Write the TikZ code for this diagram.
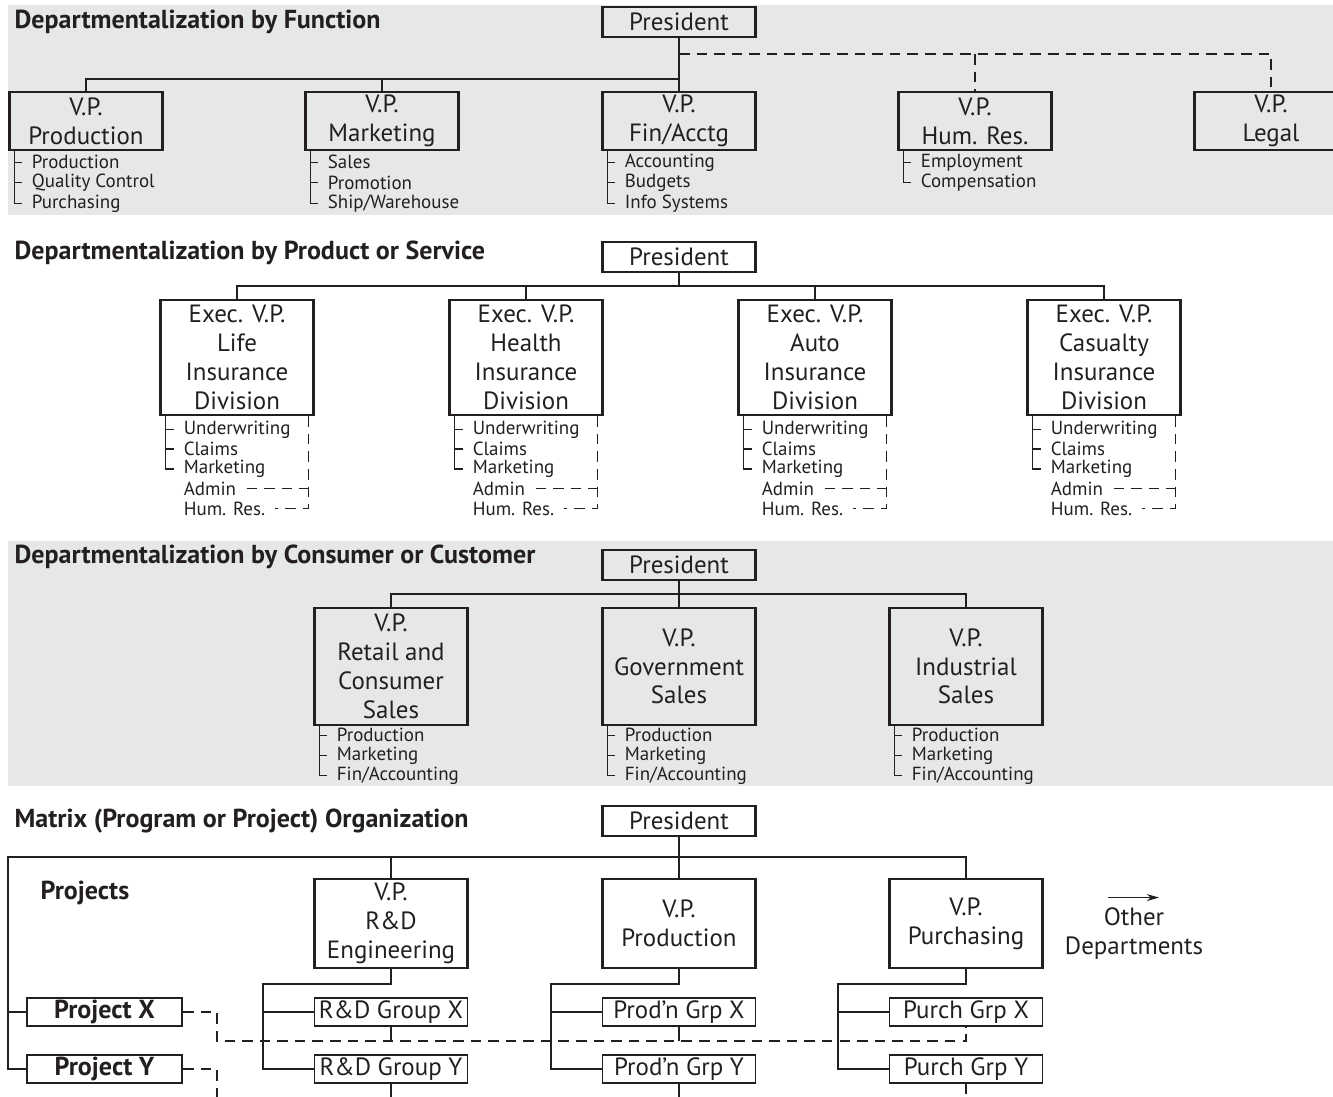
\documentclass[tikz,border=0pt]{standalone}
\usepackage{fontspec}
\setmainfont{PT Sans}
\usepackage{xcolor}
\usepackage{tikz}
\usetikzlibrary{positioning, arrows.meta, calc}
\definecolor{bandgray}{HTML}{E6E7E8}
\definecolor{ink}{HTML}{231F20}

\begin{document}
\begin{tikzpicture}[x=0.02cm, y=-0.02cm, line width=0.75pt, color=ink,
  every node/.style={inner sep=0pt},
  title/.style={anchor=west, font=\fontsize{14.8}{17}\selectfont\bfseries},
  chief/.style={draw, line width=1.5pt, minimum width=3.06cm, minimum height=0.6cm, align=center, font=\fontsize{14.2}{16.4}\selectfont},
  grpbox/.style={draw, line width=0.75pt, minimum width=3.06cm, minimum height=0.56cm, font=\fontsize{14.2}{16.4}\selectfont},
  projbox/.style={chief, minimum width=3.1cm, minimum height=0.56cm, font=\fontsize{14.8}{16.4}\selectfont\bfseries},
  item/.style={anchor=west, font=\fontsize{10.8}{12}\selectfont},
  staff link/.style={dash pattern=on 6pt off 4pt}]
\useasboundingbox (0,0) rectangle (1333,1097);
\clip (0,0) rectangle (1333,1097);
% Grey bands behind the first and third charts
\fill[bandgray] (8,5) rectangle (1333,215);
\fill[bandgray] (8,541) rectangle (1333,786);

% ---- Departmentalization by function
\node[title] (t1) at (14,22) {Departmentalization by Function};
\node[chief] (p1) at (679,22) {President};
\foreach \name/\x/\txt in {f1/86/{V.P.\\Production}, f2/382/{V.P.\\Marketing}, f3/679/{V.P.\\Fin/Acctg}, f4/975/{V.P.\\Hum. Res.}, f5/1271/{V.P.\\Legal}} {
  \node[chief, minimum height=1.16cm] (\name) at (\x,121) {\txt};
}
\coordinate (fbus) at (679,79);
\coordinate (fdash) at (679,54);
\draw (p1.south) -- (f3.north);
\draw (f1.north) |- (fbus);
\draw (f2.north) -- (f2.north |- fbus);
\draw[staff link] (fdash) -| (f5.north);
\draw[staff link] (f4.north |- fdash) -- (f4.north);
\foreach \b/\items in {f1/{Production,Quality Control,Purchasing}, f2/{Sales,Promotion,Ship/Warehouse}, f3/{Accounting,Budgets,Info Systems}, f4/{Employment,Compensation}} {
  \foreach \it [count=\k] in \items {
    \node[item] (\b-\k) at ($(\b.south west)+(23,{11+20.5*(\k-1)})$) {\it};
    \draw ($(\b.south west)+(6,0)$) |- ($(\b-\k.west)+(-9,0)$);
  }
}

% ---- Departmentalization by product or service
\node[title] (t2) at (14,253) {Departmentalization by Product or Service};
\node[chief] (p2) at (679,257) {President};
\foreach \name/\x/\txt in {d1/237/{Exec. V.P.\\Life\\Insurance\\Division}, d2/526/{Exec. V.P.\\Health\\Insurance\\Division}, d3/815/{Exec. V.P.\\Auto\\Insurance\\Division}, d4/1104/{Exec. V.P.\\Casualty\\Insurance\\Division}} {
  \node[chief, minimum height=2.3cm] (\name) at (\x,357.5) {\txt};
}
\coordinate (dbus) at (679,286);
\draw (p2.south) -- (dbus);
\draw (d1.north) |- (d4.north |- dbus) -- (d4.north);
\draw (d2.north) -- (d2.north |- dbus);
\draw (d3.north) -- (d3.north |- dbus);
\foreach \b in {d1,d2,d3,d4} {
  \foreach \it [count=\k] in {Underwriting,Claims,Marketing,Admin,Hum. Res.} {
    \node[item] (\b-\k) at ($(\b.south west)+(24,{13+19.8*(\k-1)})$) {\it};
  }
  \foreach \k in {1,2,3} {
    \draw ($(\b.south west)+(6,0)$) |- ($(\b-\k.west)+(-9,0)$);
  }
  \draw[staff link] ($(\b.south east)+(-6,0)$) |- ($(\b-5.east)+(9,0)$);
  \draw[staff link] ($(\b-4.east)+(10,0)$) -- ($(\b-4.east -| \b.south east)+(-6,0)$);
}

% ---- Departmentalization by consumer or customer
\node[title] (t3) at (14,557) {Departmentalization by Consumer or Customer};
\node[chief] (p3) at (679,565) {President};
\foreach \name/\x/\txt in {c1/391/{V.P.\\Retail and\\Consumer\\Sales}, c2/679/{V.P.\\Government\\Sales}, c3/966/{V.P.\\Industrial\\Sales}} {
  \node[chief, minimum height=2.34cm] (\name) at (\x,666.5) {\txt};
}
\coordinate (cbus) at (679,594);
\draw (p3.south) -- (c2.north);
\draw (c1.north) |- (cbus) -| (c3.north);
\foreach \b in {c1,c2,c3} {
  \foreach \it [count=\k] in {Production,Marketing,Fin/Accounting} {
    \node[item] (\b-\k) at ($(\b.south west)+(23,{9+20*(\k-1)})$) {\it};
    \draw ($(\b.south west)+(6,0)$) |- ($(\b-\k.west)+(-9,0)$);
  }
}

% ---- Matrix organization
\node[title] (t4) at (14,821) {Matrix (Program or Project) Organization};
\node[chief] (p4) at (679,821) {President};
\node[title] (proj) at (40,893) {Projects};
\foreach \name/\x/\txt in {m1/391/{V.P.\\R\&D\\Engineering}, m2/679/{V.P.\\Production}, m3/966/{V.P.\\Purchasing}} {
  \node[chief, minimum height=1.78cm] (\name) at (\x,923.5) {\txt};
}
\node[projbox] (projx) at (104.5,1012) {Project X};
\node[projbox] (projy) at (104.5,1069) {Project Y};
\foreach \i/\x/\gx/\gy in {1/391/{R\&D Group X}/{R\&D Group Y}, 2/679/{Prod'n Grp X}/{Prod'n Grp Y}, 3/966/{Purch Grp X}/{Purch Grp Y}} {
  \node[grpbox] (g\i x) at (\x,1012) {\gx};
  \node[grpbox] (g\i y) at (\x,1069) {\gy};
  \coordinate (k\i) at ({\x-128},984);
  \draw (m\i.south) |- (k\i) |- (g\i y.west);
  \draw (g\i x.west) -- (g\i x.west -| k\i);
}
\coordinate (pbus) at (8,857);
\draw (p4.south) -- (m2.north);
\draw (m3.north) |- (pbus) |- (projy.west);
\draw (m1.north) -- (m1.north |- pbus);
\draw (projx.west) -- (projx.west -| pbus);
% dashed project lanes
\coordinate (xlane) at (217,1041);
\coordinate (ylane) at (217,1100);
\draw[staff link] (projx.east) -| (xlane) -| (g3x.south);
\draw[staff link] (projy.east) -| (ylane);
\draw (g1x.south) -- (g1x.south |- xlane);
\draw (g2x.south) -- (g2x.south |- xlane);
\draw (g1y.south) -- (g1y.south |- ylane);
\draw (g2y.south) -- (g2y.south |- ylane);
\draw[staff link] (g3y.south) -- (g3y.south |- ylane);
% other departments
\node[align=center, font=\fontsize{14.2}{16.4}\selectfont] (other) at (1134,934) {Other\\Departments};
\draw[line width=0.6pt, -{Stealth[length=7pt, width=4pt]}] ($(other.north)+(-26,-10)$) -- ($(other.north)+(25,-10)$);
\end{tikzpicture}
\end{document}
